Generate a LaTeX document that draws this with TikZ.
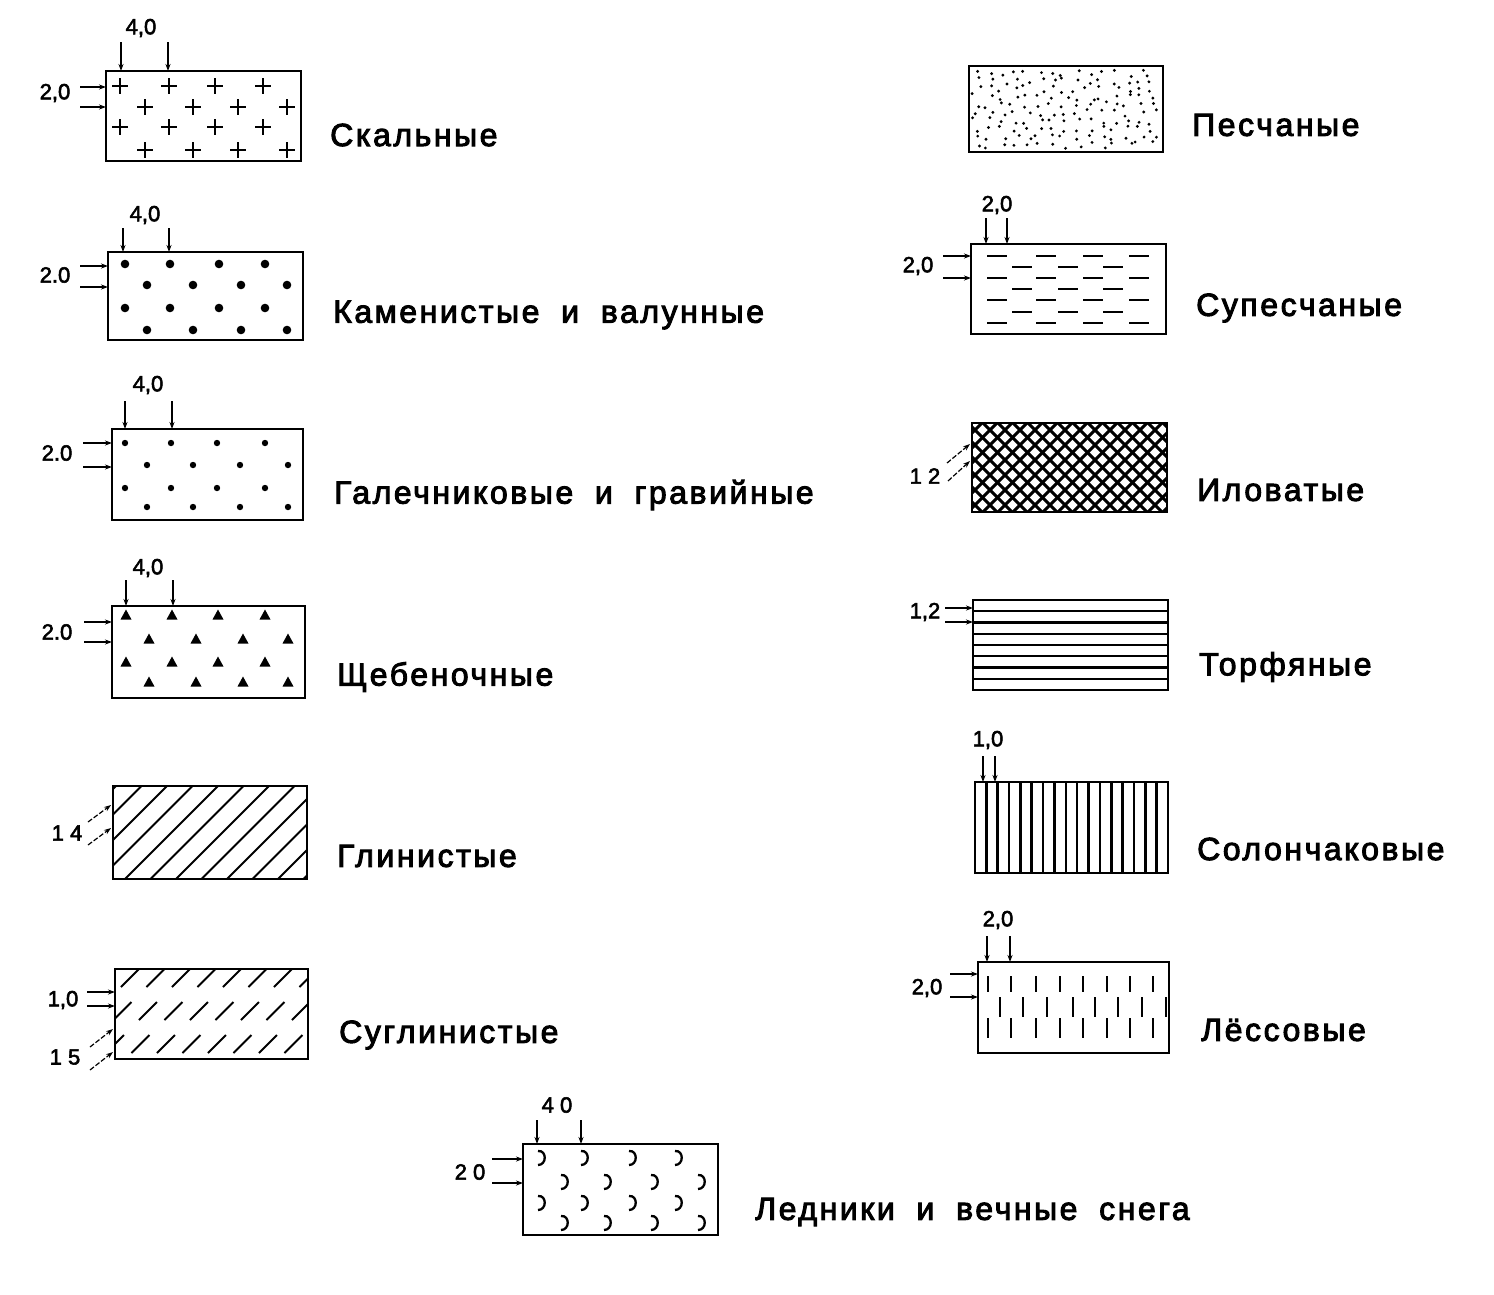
\documentclass[tikz,border=0pt]{standalone}
\usepackage{fontspec}
\setmainfont{Liberation Sans}
\newfontfamily\lblfont[LetterSpace=8,WordSpace=1.9,FakeBold=3]{Liberation Sans}
\newfontfamily\numfont[FakeBold=2.5]{Liberation Sans}
\usetikzlibrary{arrows.meta}
\begin{document}
\begin{tikzpicture}[x=1pt,y=-1pt,
  box/.style={line width=2.6pt},
  pat/.style={line width=2.3pt},
  dim/.style={line width=1.2pt,-{Stealth[length=7pt,width=5pt]}},
  ddim/.style={dim,dash pattern=on 5pt off 2pt},
  lbl/.style={anchor=west,font=\lblfont\fontsize{32}{32}\selectfont,inner sep=0pt},
  num/.style={font=\numfont\fontsize{22}{22}\selectfont,inner sep=0pt},
]
\useasboundingbox (0,0) rectangle (1494,1294);

% ---------- 1 Скальные ----------
\draw[box] (106,71) rectangle (301,161);
\foreach \x/\y in {120/86,169/86,215/86,263/86,145/107,193/107,238/107,287/107,
                   120/127,169/127,215/127,263/127,145/150,193/150,238/150,287/150}
  \draw[pat] (\x-8,\y) -- (\x+8,\y) (\x,\y-8) -- (\x,\y+8);
\node[num] (n1a) at (141,28) {4,0};
\node[num] (n1b) at (55,93) {2,0};
\draw[dim] (121,42) -- (121,71);
\draw[dim] (168,42) -- (168,71);
\draw[dim] (80,87) -- (106,87);
\draw[dim] (80,107) -- (106,107);
\node[lbl] (t1) at (330,135) {Скальные};

% ---------- 2 Каменистые ----------
\draw[box] (108,252) rectangle (303,340);
\foreach \x/\y in {125/264,170/264,219/264,265/264,147/285,193/285,241/285,287/285,
                   125/308,170/308,219/308,265/308,147/330,193/330,241/330,287/330}
  \fill (\x,\y) circle (4.3pt);
\node[num] (n2a) at (145,215) {4,0};
\node[num] (n2b) at (55,275) {2.0};
\draw[dim] (123,228) -- (123,252);
\draw[dim] (169,228) -- (169,252);
\draw[dim] (80,266) -- (108,266);
\draw[dim] (80,287) -- (108,287);
\node[lbl] (t2) at (333,315) {Каменистые и валунные};

% ---------- 3 Галечниковые ----------
\draw[box] (112,429) rectangle (303,520);
\foreach \x/\y in {125/443,171/443,217/443,265/443,147/465,193/465,240/465,288/465,
                   125/488,171/488,217/488,265/488,147/507,193/507,240/507,288/507}
  \fill (\x,\y) circle (3.2pt);
\node[num] (n3a) at (148,385) {4,0};
\node[num] (n3b) at (57,453) {2.0};
\draw[dim] (125,401) -- (125,429);
\draw[dim] (172,401) -- (172,429);
\draw[dim] (83,443) -- (112,443);
\draw[dim] (83,467) -- (112,467);
\node[lbl] (t3) at (334,495) {Галечниковые и гравийные};

% ---------- 4 Щебеночные ----------
\draw[box] (112,606) rectangle (305,698);
\foreach \x/\y in {126/615,172/615,218/615,265/615,149/639,196/639,243/639,288/639,
                   126/662,172/662,218/662,265/662,149/682,196/682,243/682,288/682}
  \fill (\x-5.5,\y+4.5) -- (\x+5.5,\y+4.5) -- (\x,\y-5.5) -- cycle;
\node[num] (n4a) at (148,568) {4,0};
\node[num] (n4b) at (57,632) {2.0};
\draw[dim] (126,580) -- (126,606);
\draw[dim] (173,580) -- (173,606);
\draw[dim] (84,622) -- (112,622);
\draw[dim] (84,642) -- (112,642);
\node[lbl] (t4) at (337,677) {Щебеночные};

% ---------- 5 Глинистые ----------
\begin{scope}
\clip (113,786) rectangle (307,879);
\foreach \c in {902,927.5,...,1195}
  \draw[line width=2pt] (\c-775,775) -- (\c-890,890);
\end{scope}
\draw[box] (113,786) rectangle (307,879);
\node[num] (n5a) at (67,833) {1 4};
\draw[ddim] (88,822) -- (111,805);
\draw[ddim] (88,845) -- (111,828);
\node[lbl] (t5) at (337,856) {Глинистые};

% ---------- 6 Суглинистые ----------
\begin{scope}
\clip (115,969) rectangle (308,1059);
\foreach \yr in {978,1011,1044}
  \foreach \c in {1006,1031.5,...,1400}
    \draw[line width=2pt] (\c-\yr-9,\yr+9) -- (\c-\yr+9,\yr-9);
\end{scope}
\draw[box] (115,969) rectangle (308,1059);
\node[num] (n6a) at (63,1000) {1,0};
\node[num] (n6b) at (65,1057) {1 5};
\draw[dim] (87,992) -- (115,992);
\draw[dim] (87,1006) -- (115,1006);
\draw[ddim] (90,1047) -- (113,1029);
\draw[ddim] (90,1070) -- (113,1052);
\node[lbl] (t6) at (339,1035) {Суглинистые};

% ---------- 7 Песчаные ----------
\pgfmathsetseed{1234}
\foreach \i in {0,...,14} {
  \foreach \j in {0,...,9} {
    \pgfmathsetmacro\px{977+12.5*\i+5*rand}
    \pgfmathsetmacro\py{73+8.0*\j+3.5*rand}
    \fill (\px,\py) circle (1.6pt);
  }
}
\draw[box] (969,66) rectangle (1163,152);
\node[lbl] (t7) at (1192,125) {Песчаные};

% ---------- 8 Супесчаные ----------
\draw[box] (971,244) rectangle (1166,334);
\foreach \y in {256,278,300,323}
  \foreach \x in {997,1046,1093,1139}
    \draw[line width=2pt] (\x-10,\y) -- (\x+10,\y);
\foreach \y in {267,289,312}
  \foreach \x in {1022,1068,1113}
    \draw[line width=2pt] (\x-10,\y) -- (\x+10,\y);
\node[num] (n8a) at (997,205) {2,0};
\node[num] (n8b) at (918,266) {2,0};
\draw[dim] (986,218) -- (986,244);
\draw[dim] (1007,218) -- (1007,244);
\draw[dim] (943,256) -- (971,256);
\draw[dim] (943,278) -- (971,278);
\node[lbl] (t8) at (1196,308) {Супесчаные};

% ---------- 9 Иловатые ----------
\begin{scope}
\clip (972,423) rectangle (1167,512);
\foreach \c in {1390,1405,...,1690}
  \draw[line width=3pt] (\c-415,415) -- (\c-520,520);
\foreach \c in {455,470,...,750}
  \draw[line width=3pt] (\c+415,415) -- (\c+520,520);
\end{scope}
\draw[box] (972,423) rectangle (1167,512);
\node[num] (n9a) at (925,476) {1 2};
\draw[ddim] (947,463) -- (970,444);
\draw[ddim] (948,481) -- (970,461);
\node[lbl] (t9) at (1197,490) {Иловатые};

% ---------- 10 Торфяные ----------
\foreach \y in {611.25,622.5,...,680}
  \draw[line width=2.4pt] (973,\y) -- (1168,\y);
\draw[box] (973,600) rectangle (1168,690);
\node[num] (n10a) at (925,612) {1,2};
\draw[dim] (945,608) -- (973,608);
\draw[dim] (945,622) -- (973,622);
\node[lbl] (t10) at (1199,667) {Торфяные};

% ---------- 11 Солончаковые ----------
\foreach \x in {986.35,997.7,...,1160}
  \draw[line width=2.6pt] (\x,782) -- (\x,873);
\draw[box] (975,782) rectangle (1168,873);
\node[num] (n11a) at (988,740) {1,0};
\draw[dim] (983,756) -- (983,782);
\draw[dim] (995,756) -- (995,782);
\node[lbl] (t11) at (1197,849) {Солончаковые};

% ---------- 12 Лёссовые ----------
\draw[box] (978,962) rectangle (1169,1053);
\foreach \x in {988,1011,1036,1060,1083,1107,1130,1153}
  \draw[line width=2.2pt] (\x,976) -- (\x,992) (\x,1018) -- (\x,1038);
\foreach \x in {1000,1023,1047,1073,1095,1118,1142,1166}
  \draw[line width=2.2pt] (\x,997) -- (\x,1017);
\node[num] (n12a) at (998,920) {2,0};
\node[num] (n12b) at (927,988) {2,0};
\draw[dim] (987,936) -- (987,962);
\draw[dim] (1010,936) -- (1010,962);
\draw[dim] (950,974) -- (978,974);
\draw[dim] (950,997) -- (978,997);
\node[lbl] (t12) at (1201,1030) {Лёссовые};

% ---------- 13 Ледники ----------
\draw[box] (523,1144) rectangle (718,1235);
\foreach \x/\y in {542/1158,585/1158,633/1158,679/1158,565/1182,608/1182,655/1182,702/1182,
                   542/1203,585/1203,633/1203,679/1203,565/1223,608/1223,655/1223,702/1223}
  \draw[line width=2.3pt] (\x-4,\y-7) .. controls (\x+5,\y-8) and (\x+5,\y+7) .. (\x-4,\y+7);
\node[num] (n13a) at (557,1105) {4 0};
\node[num] (n13b) at (470,1172) {2 0};
\draw[dim] (537,1120) -- (537,1144);
\draw[dim] (581,1120) -- (581,1144);
\draw[dim] (492,1159) -- (523,1159);
\draw[dim] (492,1183) -- (523,1183);
\node[lbl] (t13) at (755,1212) {Ледники и вечные снега};
\end{tikzpicture}
\end{document}
